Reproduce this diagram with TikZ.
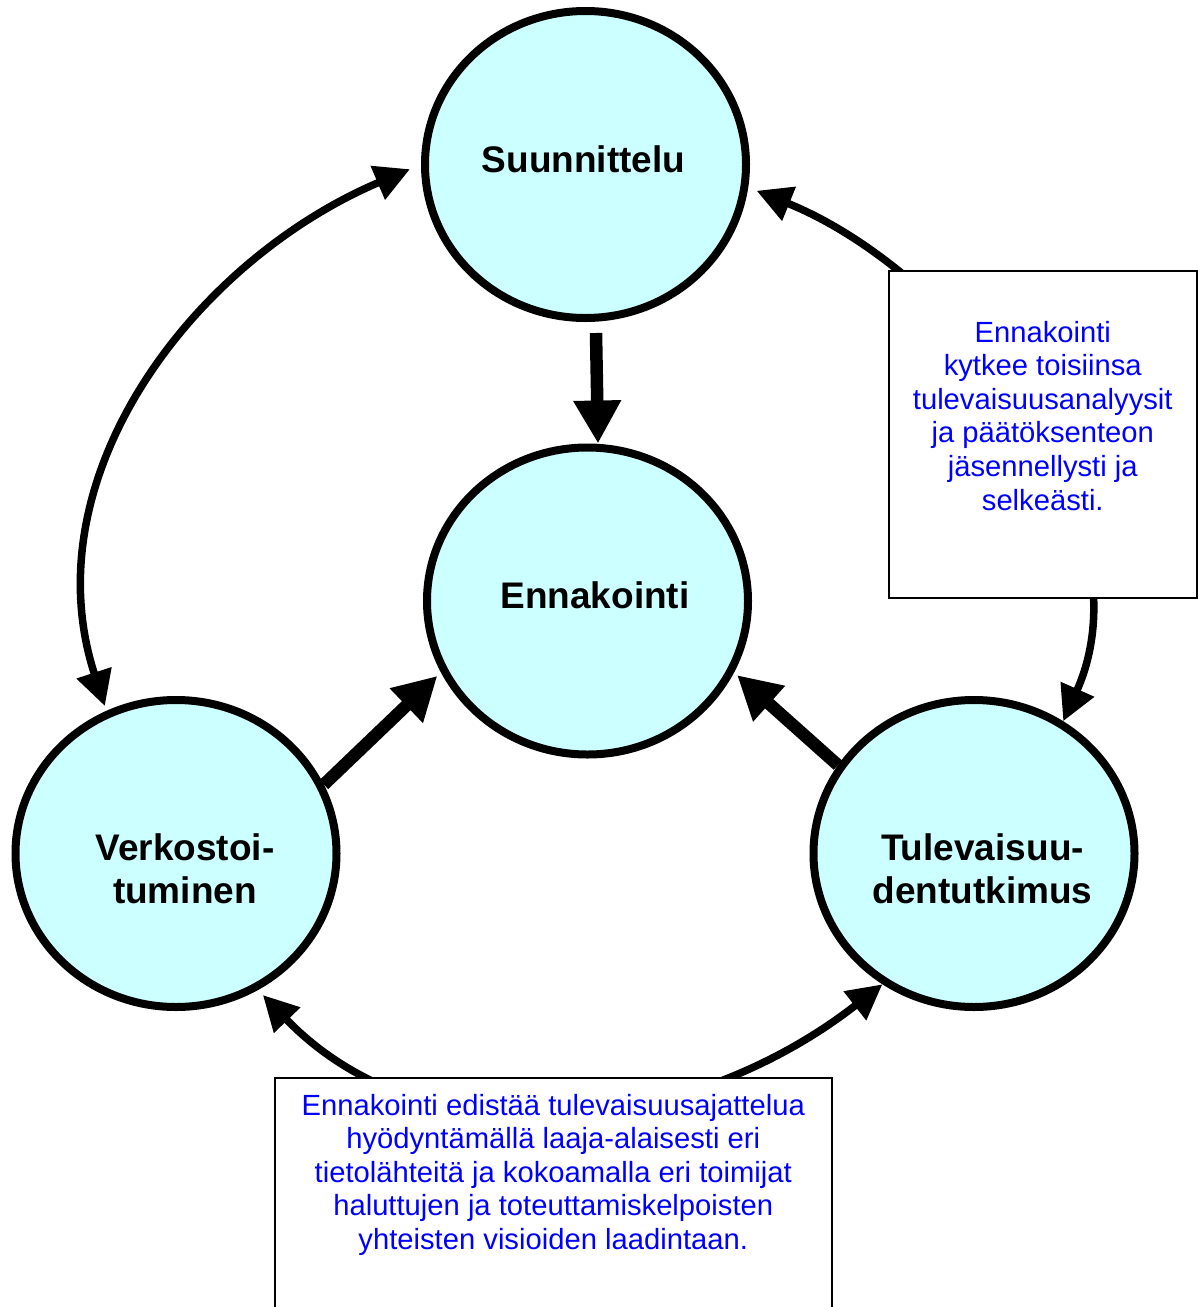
\documentclass[tikz,border=0pt]{standalone}
\usepackage{fontspec}
\setmainfont{Liberation Sans}
\usetikzlibrary{arrows.meta,shapes.geometric}
\definecolor{bubblefill}{HTML}{CCFFFF}
\definecolor{noteblue}{HTML}{0000FF}
\begin{document}
\begin{tikzpicture}[x=1pt,y=-1pt,
  bubble/.style={ellipse, draw=black, line width=8pt, fill=bubblefill,
    minimum width=321pt, minimum height=307pt, inner sep=0pt},
  bubbletext/.style={anchor=north, align=center, inner sep=0pt,
    font=\fontsize{37}{42.5}\selectfont\bfseries},
  flow/.style={line width=12.5pt, -{Triangle[length=43pt,width=45pt]}},
  loopline/.style={line width=7.5pt,
    {Triangle[length=35pt,width=35pt]}-{Triangle[length=35pt,width=35pt]}},
  notebox/.style={draw=black, line width=1.5pt, fill=white, anchor=north west, inner sep=0pt},
  notetext/.style={anchor=north, align=center, inner sep=0pt, text=noteblue,
    font=\fontsize{29.2}{33.6}\selectfont}
]
\useasboundingbox (0,0) rectangle (1198,1307);
\clip (0,0) rectangle (1198,1307);

% the four circles
\node[bubble] (S) at (585.5,164.5) {};
\node[bubble] (E) at (587.5,601) {};
\node[bubble] (V) at (176,853.5) {};
\node[bubble] (T) at (974,853.5) {};

\node[bubbletext] (S-text) at (583.5,145.5) {Suunnittelu};
\node[bubbletext] (E-text) at (595,581.5) {Ennakointi};
\node[bubbletext] (V-text) at (185,833.5) {Verkostoi-\\tuminen};
\node[bubbletext] (T-text) at (982.5,833.5) {Tulevaisuu-\\dentutkimus};

% thick arrows into the centre
\draw[flow] ([xshift=10.5pt,yshift=-11pt]S.south) -- ([xshift=10.5pt]E.north);
\draw[flow, shorten >=5pt] (V.25) -- (E.206);
\draw[flow, shorten >=4pt] (T.147) -- (E.334);

% outer cycle of double-headed arcs
\draw[loopline, shorten <=12pt, shorten >=5pt] (S.180) to[out=203,in=108] (V.116);
\draw[loopline, shorten <=9pt] (S.352) to[out=338,in=66,looseness=0.92] (T.56);
\draw[loopline, shorten <=7pt] (V.301) to[out=314,in=218] (T.235);

% explanatory boxes
\node[notebox, minimum width=308pt, minimum height=327pt] (R) at (888,270) {};
\node[notebox, minimum width=557pt, minimum height=280pt] (B) at (274,1077) {};

\node[notetext] (R-text) at ([yshift=-50.7pt]R.north)
  {Ennakointi\\kytkee toisiinsa\\tulevaisuusanalyysit\\ja päätöksenteon\\jäsennellysti ja\\selkeästi.};
\node[notetext] (B-text) at ([yshift=-16.8pt]B.north)
  {Ennakointi edistää tulevaisuusajattelua\\hyödyntämällä laaja-alaisesti eri\\tietolähteitä ja kokoamalla eri toimijat\\haluttujen ja toteuttamiskelpoisten\\yhteisten visioiden laadintaan.};
\end{tikzpicture}
\end{document}
